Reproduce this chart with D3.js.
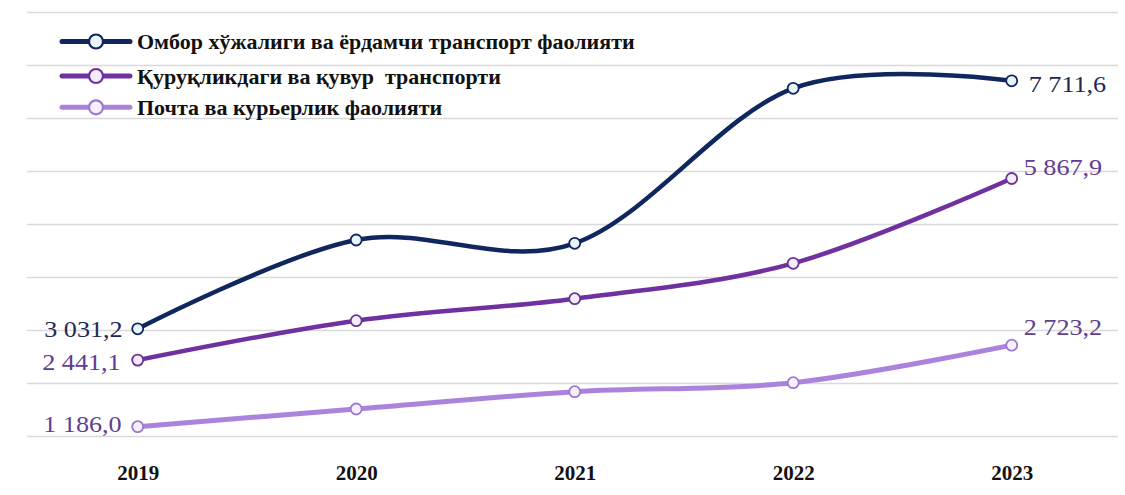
<!DOCTYPE html>
<html>
<head>
<meta charset="utf-8">
<script src="https://cdn.jsdelivr.net/npm/d3@7"></script>
<style>
  html, body { margin: 0; padding: 0; background: #ffffff; }
  svg { display: block; }
</style>
</head>
<body>
<svg id="chart" width="1125" height="495"></svg>
<script>
// Years on the horizontal axis
const years = ["2019", "2020", "2021", "2022", "2023"];

// Series values, one array per activity
const warehouseValues = [3031.2, 4708, 4645, 7570, 7711.6];
const landPipelineValues = [2441.1, 3185, 3600, 4268, 5867.9];
const postCourierValues = [1186.0, 1519, 1845, 2015, 2723.2];

// Series names shown in the legend
const seriesNames = [
  "Омбор хўжалиги ва ёрдамчи транспорт фаолияти",
  "Қуруқликдаги ва қувур  транспорти",
  "Почта ва курьерлик фаолияти"
];

// Value gridlines
const gridValues = [1000, 2000, 3000, 4000, 5000, 6000, 7000, 8000, 9000];

const SERIF = "'Liberation Serif', 'Times New Roman', serif";

const series = [
  { name: seriesNames[0], values: warehouseValues,
    color: "#0f265e", fill: "#e9f4f8", stroke: "#0f265e", label: "#1d2a58", width: 4.5 },
  { name: seriesNames[1], values: landPipelineValues,
    color: "#7031a0", fill: "#f4ecfb", stroke: "#6a3496", label: "#633b93", width: 4.5 },
  { name: seriesNames[2], values: postCourierValues,
    color: "#ab83dd", fill: "#f6f0fd", stroke: "#9d78cf", label: "#5f3f8e", width: 5 }
];

// Label placement next to the first and last points: [dx, dy, anchor]
const labelPlacement = [
  { first: [-15, 8, "end"],  last: [17, 11, "start"] },
  { first: [-17, 10, "end"], last: [12, -4, "start"] },
  { first: [-16, 5, "end"],  last: [12, -10, "start"] }
];

const fmt = v => {
  const parts = v.toFixed(1).split(".");
  const intPart = parts[0].replace(/\B(?=(\d{3})+(?!\d))/g, " ");
  return intPart + "," + parts[1];
};

const svg = d3.select("#chart");

const x = d3.scalePoint().domain(years).range([137.7, 1011.7]);
const y = d3.scaleLinear().domain([1000, 9000]).range([436.5, 12.5]);

// Horizontal gridlines
svg.append("g")
  .selectAll("line")
  .data(gridValues)
  .join("line")
  .attr("x1", 27)
  .attr("x2", 1118)
  .attr("y1", d => y(d))
  .attr("y2", d => y(d))
  .attr("stroke", "#d9d9d9")
  .attr("stroke-width", 1.6);

// Year labels
const xAxis = d3.axisBottom(x).tickSize(0).tickPadding(0);
const gx = svg.append("g").attr("transform", "translate(0,465)").call(xAxis);
gx.attr("font-family", null).attr("font-size", null);
gx.select(".domain").remove();
gx.selectAll("text")
  .attr("dy", 0)
  .attr("y", 15)
  .attr("font-family", SERIF)
  .attr("font-size", 21)
  .attr("font-weight", "bold")
  .attr("fill", "#111111");

const line = d3.line()
  .x((d, i) => x(years[i]))
  .y(d => y(d))
  .curve(d3.curveCardinal.tension(0));

// Lines, drawn lightest first so the dark series sits on top
series.slice().reverse().forEach(s => {
  svg.append("path")
    .datum(s.values)
    .attr("d", line)
    .attr("fill", "none")
    .attr("stroke", s.color)
    .attr("stroke-width", s.width)
    .attr("stroke-linecap", "round");
});

series.forEach(s => {
  svg.append("g")
    .selectAll("circle")
    .data(s.values)
    .join("circle")
    .attr("cx", (d, i) => x(years[i]))
    .attr("cy", d => y(d))
    .attr("r", 5.5)
    .attr("fill", s.fill)
    .attr("stroke", s.stroke)
    .attr("stroke-width", 1.8);
});

// Value labels at both ends of each series (slightly widened glyphs)
series.forEach((s, k) => {
  const p = labelPlacement[k];
  const ends = [
    { i: 0, cfg: p.first },
    { i: s.values.length - 1, cfg: p.last }
  ];
  ends.forEach(e => {
    const t = svg.append("text")
      .attr("x", x(years[e.i]) + e.cfg[0])
      .attr("y", y(s.values[e.i]) + e.cfg[1])
      .attr("text-anchor", e.cfg[2])
      .attr("fill", s.label)
      .attr("font-family", SERIF)
      .attr("font-size", 24)
      .text(fmt(s.values[e.i]));
    const w = t.node().getComputedTextLength();
    t.attr("textLength", w * 1.09).attr("lengthAdjust", "spacingAndGlyphs");
  });
});

// Legend
const legend = svg.append("g");
const legendRows = [41.5, 76, 107.3];
series.forEach((s, k) => {
  const g = legend.append("g").attr("transform", `translate(0,${legendRows[k]})`);
  g.append("line")
    .attr("x1", 62).attr("x2", 130)
    .attr("stroke", s.color)
    .attr("stroke-width", 5)
    .attr("stroke-linecap", "round");
  g.append("circle")
    .attr("cx", 96).attr("r", 7)
    .attr("fill", s.fill)
    .attr("stroke", s.stroke)
    .attr("stroke-width", 2.2);
  g.append("text")
    .attr("x", 137)
    .attr("y", 7.5)
    .attr("fill", "#111111")
    .attr("font-family", SERIF)
    .attr("font-size", 22)
    .attr("font-weight", "bold")
    .attr("xml:space", "preserve")
    .text(s.name);
});
</script>
</body>
</html>
